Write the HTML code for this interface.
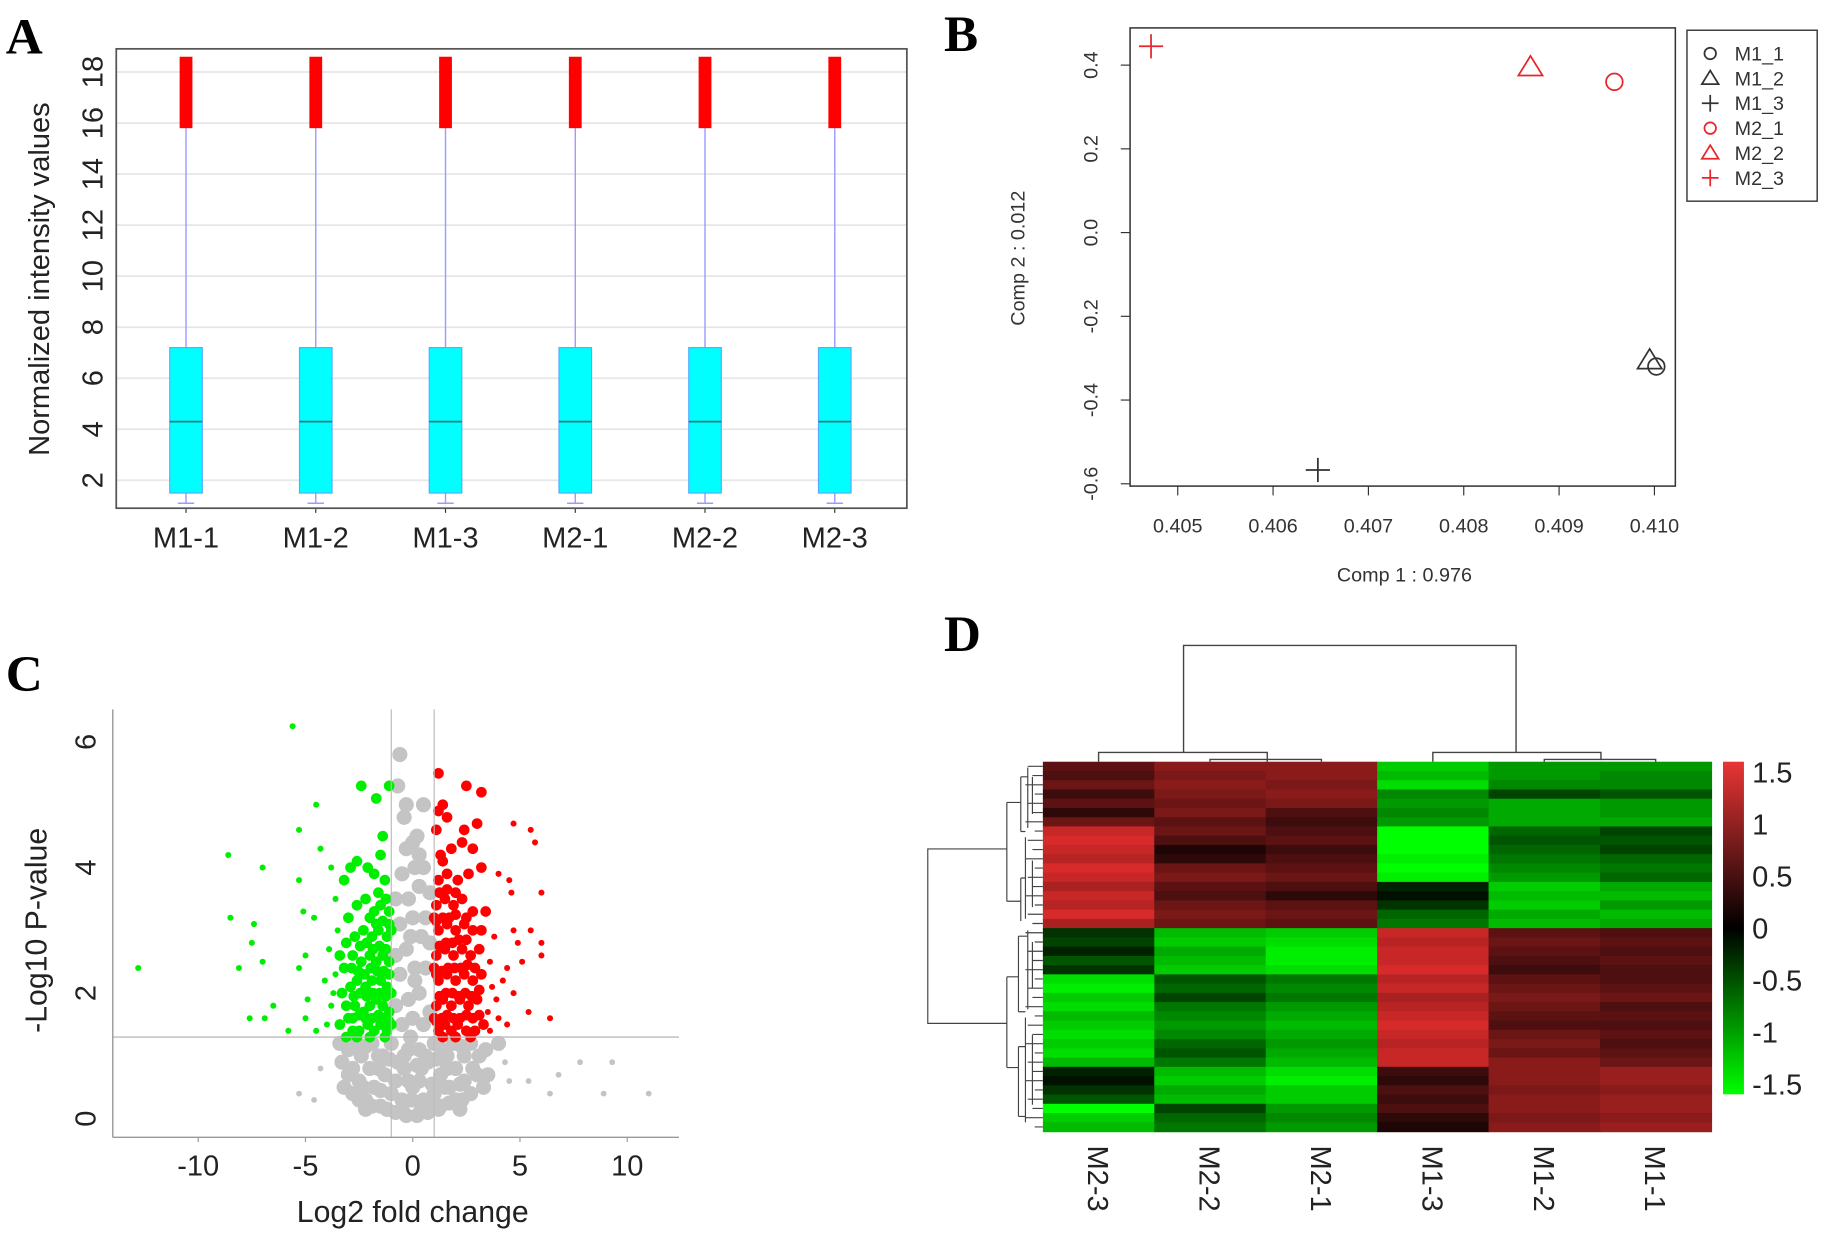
<!DOCTYPE html>
<html><head><meta charset="utf-8"><style>
html,body{margin:0;padding:0;background:#fff;}
svg{display:block;font-family:"Liberation Sans",Arial,sans-serif;}
</style></head><body>
<svg id="fig" width="1823" height="1242" viewBox="0 0 1568 1068" preserveAspectRatio="none" xmlns="http://www.w3.org/2000/svg">
<defs><linearGradient id="cb" x1="0" y1="0" x2="0" y2="1">
<stop offset="0" stop-color="#e83535"/><stop offset="0.5" stop-color="#000"/><stop offset="1" stop-color="#00ff00"/></linearGradient></defs>
<text x="5" y="46" font-family="Liberation Serif" font-weight="bold" font-size="44">A</text>
<text x="812" y="44" font-family="Liberation Serif" font-weight="bold" font-size="44">B</text>
<text x="5" y="594" font-family="Liberation Serif" font-weight="bold" font-size="44">C</text>
<text x="812" y="560" font-family="Liberation Serif" font-weight="bold" font-size="44">D</text>
<g id="pa"></g>
<g id="pb"></g>
<g id="pc"></g>
<g id="pd"></g>
</svg>
<script>
// ---- Panel A data
const samplesA = ["M1-1","M1-2","M1-3","M2-1","M2-2","M2-3"];
const q1A = [1.5,1.5,1.5,1.5,1.5,1.5];
const q3A = [7.2,7.2,7.2,7.2,7.2,7.2];
const medA = [4.3,4.3,4.3,4.3,4.3,4.3];
const loA = [1.1,1.1,1.1,1.1,1.1,1.1];
const hiA = [15.8,15.8,15.8,15.8,15.8,15.8];
const outTopA = [18.6,18.6,18.6,18.6,18.6,18.6];
const yTicksA = [2,4,6,8,10,12,14,16,18];
// ---- Panel B data
const pcaNames = ["M1_1","M1_2","M1_3","M2_1","M2_2","M2_3"];
const pcaX = [0.41002,0.40995,0.40647,0.40958,0.40870,0.40472];
const pcaY = [-0.32,-0.305,-0.567,0.36,0.395,0.445];
const pcaShape = ["o","t","p","o","t","p"];
const pcaColor = ["#333","#333","#333","#e8262b","#e8262b","#e8262b"];
const xTicksB = [0.405,0.406,0.407,0.408,0.409,0.410];
const yTicksB = [0.4,0.2,0.0,-0.2,-0.4,-0.6];
// ---- Panel C data
const greenX = [-12.8,-8.6,-7,-8.5,-7.4,-7.5,-8.1,-7,-6.5,-7.6,-6.9,-5.6,-5.3,-4.5,-5.3,-5.1,-4.6,-5,-5.3,-4.9,-5,-5.8,-4.5,-2.4,-1.7,-1.1,-1.4,-4.3,-3.8,-3.2,-2.6,
-1.2,-1.5,-1.8,-2.1,-2.5,-2.8,-1.1,-1.4,-1.7,-2.0,-2.3,-2.7,-3.0,-1.2,-1.5,-1.9,-2.2,-2.6,-2.9,-3.3,-1.1,-1.4,-1.7,-2.0,-2.4,-2.8,-3.2,-3.6,-1.2,-1.6,-1.9,-2.3,-2.7,-3.1,-1.1,-1.5,-1.8,-2.2,-2.6,-3.0,-3.5,-3.9,-4.1,-3.8,-3.4,-1.3,-1.8,-2.1,-1.5,-2.9,-3.6,-4.0,-1.0,-1.0,-1.0,-1.3,-2.0,-2.6,-3.1,
-1.1,-1.35,-1.6,-1.9,-2.2,-2.5,-2.8,-1.25,-1.55,-1.85,-2.15,-2.45,-2.75,-1.1,-1.35,-1.65,-1.95,-2.25,-2.55,-2.85,-1.25,-1.55,-1.85,-2.15,-2.45,-1.1,-1.4,-1.7,-2.0,-1.25,-1.6,-3.4,-3.7,-3.1];
const greenY = [2.4,4.2,4.0,3.2,3.1,2.8,2.4,2.5,1.8,1.6,1.6,6.25,4.6,5.0,3.8,3.3,3.2,2.6,2.4,1.9,1.6,1.4,1.4,5.3,5.1,5.3,4.5,4.3,4.0,3.8,4.1,
1.4,1.5,1.4,1.5,1.4,1.4,1.7,1.8,1.9,1.8,1.7,1.8,1.6,2.1,2.2,2.2,2.1,2.2,2.1,2.0,2.5,2.6,2.5,2.6,2.5,2.6,2.4,2.3,2.9,3.0,2.9,3.0,2.9,2.8,3.3,3.4,3.3,3.5,3.4,3.2,3.0,2.7,2.2,1.8,1.5,3.8,3.9,4.0,4.2,4.0,3.5,1.5,2.0,3.0,1.5,1.3,1.3,1.3,1.3,
1.55,1.6,1.65,1.6,1.6,1.65,1.6,1.95,2.0,2.0,1.95,2.0,1.95,2.3,2.35,2.35,2.4,2.3,2.35,2.4,2.7,2.75,2.7,2.8,2.75,3.1,3.15,3.1,3.2,3.5,3.6,2.6,2.0,1.8];
const redX = [1.2,1.5,1.8,2.1,2.5,2.9,3.3,1.1,1.4,1.8,2.2,2.6,3.0,3.5,4.0,4.4,1.2,1.6,2.0,2.4,2.8,3.2,3.7,4.2,1.1,1.5,1.9,2.3,2.7,3.1,3.6,4.4,1.2,1.6,2.0,2.4,2.8,3.2,3.8,4.7,5.5,6.0,1.1,1.5,1.9,2.3,2.8,3.4,4.6,6.0,1.2,1.6,2.1,2.6,3.2,4.0,4.5,1.3,1.8,2.3,2.8,1.1,1.6,2.4,3.0,1.2,1.4,1.2,2.5,3.2,4.7,5.5,5.7,6.0,6.4,5.4,4.7,5.1,4.9,1.0,1.0,1.0,1.4,2.0,2.7,
1.1,1.35,1.6,1.9,2.2,2.5,2.8,3.1,1.25,1.55,1.85,2.15,2.45,2.75,3.1,1.1,1.35,1.65,1.95,2.25,2.55,2.9,1.25,1.55,1.85,2.15,2.5,1.1,1.4,1.7,2.0,2.5,1.25,1.6,2.0,1.4,3.6,3.9];
const redY = [1.4,1.5,1.4,1.5,1.4,1.4,1.5,1.8,1.9,1.8,1.9,1.8,1.9,1.7,1.6,1.5,2.2,2.3,2.2,2.3,2.2,2.3,2.1,2.2,2.6,2.7,2.6,2.7,2.6,2.7,2.5,2.4,3.0,3.1,3.0,3.1,3.0,3.0,2.9,3.0,3.0,2.8,3.4,3.5,3.4,3.5,3.3,3.3,3.6,3.6,3.8,3.9,3.8,3.9,4.0,3.9,3.8,4.2,4.3,4.4,4.3,4.6,4.8,4.6,4.7,4.9,5.0,5.5,5.3,5.2,4.7,4.6,4.4,2.6,1.6,1.7,2.0,2.5,2.8,1.6,2.4,3.2,1.3,1.3,1.3,
1.55,1.6,1.65,1.6,1.6,1.65,1.6,1.65,1.95,2.0,2.0,1.95,2.0,1.95,2.05,2.3,2.35,2.4,2.4,2.4,2.45,2.4,2.75,2.8,2.8,2.85,2.85,3.15,3.2,3.2,3.25,3.2,3.6,3.65,3.6,4.1,1.4,1.9];
const grayX = [-0.8,-0.3,0.2,0.7,-1.5,-2.2,-2.8,1.3,2.0,2.7,3.3,-3.2,-0.5,0.5,-1.0,1.0,-1.8,1.7,-2.5,2.4,-0.2,0.3,-1.3,1.3,-2.0,2.0,-2.8,2.8,3.5,-3.3,-0.7,0.7,-1.6,1.6,-2.4,2.4,3.1,-3.0,-0.2,0.3,-1.0,1.0,-1.9,1.9,-2.6,2.7,4.0,4.3,4.5,-4.3,-4.6,-5.3,6.4,7.8,9.3,8.9,11.0,6.8,5.4,-0.5,0.5,-0.2,0.3,-0.6,0.6,-0.3,0.4,-0.6,0.6,-0.2,0.3,-0.5,0.5,-0.3,0.2,-0.4,0.5,-0.7,-0.6,-0.1,0.8,-0.8,0.8,-0.8,0.8,-0.8,0.1,0.0,0.1,-1.2,1.2,-0.4,0.4,-2.2,2.2,-1.1,1.1,
-2.5,-1.9,-1.2,-0.5,0.4,1.0,1.7,2.3,-3.0,-2.3,-1.5,-0.8,0.0,0.9,1.5,2.2,3.0,-3.4,-2.2,-1.4,-0.4,0.6,1.4,2.3,3.4,-0.4,0.2,-1.6,1.6,-0.05,0.0,0.1,-0.1,0.0,-0.3,0.3];
const grayY = [0.1,0.05,0.05,0.1,0.2,0.3,0.4,0.2,0.3,0.4,0.5,0.5,0.3,0.3,0.4,0.4,0.5,0.5,0.6,0.6,0.6,0.6,0.7,0.7,0.8,0.8,0.8,0.8,0.7,0.9,0.9,0.9,1.0,1.0,1.0,1.0,1.0,1.1,1.1,1.1,1.2,1.2,1.2,1.2,1.2,1.2,1.2,0.9,0.6,0.8,0.3,0.4,0.4,0.9,0.9,0.4,0.4,0.7,0.6,1.5,1.5,1.9,2.0,2.3,2.4,2.7,2.9,3.1,3.2,3.5,3.7,3.9,4.0,4.3,4.5,4.8,5.0,5.3,5.8,1.3,1.7,1.8,2.8,2.6,3.6,3.5,2.4,3.2,4.0,0.15,0.15,0.8,0.8,0.15,0.15,0.95,0.95,
0.3,0.2,0.15,0.15,0.15,0.2,0.25,0.3,0.7,0.5,0.45,0.6,0.5,0.55,0.5,0.55,0.7,1.2,1.15,1.0,1.0,1.0,1.1,1.15,1.1,0.8,0.85,0.8,0.8,0.3,1.6,2.2,2.9,4.4,5.0,4.2];
const xTicksC = [-10,-5,0,5,10];
const yTicksC = [0,2,4,6];
// ---- Panel D data
const colsD = ["M2-3","M2-2","M2-1","M1-3","M1-2","M1-1"];
const hM23 = [0.6,0.5,0.7,0.4,0.6,0.3,0.7,1.3,1.4,1.3,1.2,1.4,1.3,1.1,1.3,1.2,1.4,1.1,-0.3,-0.4,-0.2,-0.5,-0.3,-1.3,-1.4,-1.2,-1.3,-1.1,-1.2,-1.3,-1.2,-1.3,-1.1,-0.2,-0.1,-0.3,-0.5,-1.5,-1.2,-1.1];
const hM22 = [0.9,0.8,0.9,0.8,0.7,0.8,0.6,0.7,0.5,0.2,0.3,0.7,0.8,0.6,0.5,0.7,0.8,0.7,-1.1,-1.2,-1.0,-1.1,-1.2,-0.5,-0.6,-0.4,-0.7,-0.8,-0.9,-0.8,-0.6,-0.5,-0.7,-1.1,-1.2,-1.0,-1.1,-0.4,-0.6,-0.7];
const hM21 = [0.9,0.9,0.8,0.9,0.8,0.5,0.4,0.5,0.6,0.4,0.5,0.6,0.7,0.5,0.3,0.6,0.7,0.6,-1.2,-1.3,-1.4,-1.4,-1.3,-0.7,-0.8,-0.7,-0.9,-1.0,-1.1,-1.0,-0.9,-1.0,-1.1,-1.3,-1.4,-1.2,-1.2,-0.9,-0.8,-0.9];
const hM13 = [-1.2,-1.1,-1.3,-0.8,-0.9,-0.8,-0.9,-1.5,-1.5,-1.5,-1.4,-1.5,-1.4,-0.2,-0.1,-0.3,-0.6,-0.7,1.3,1.2,1.3,1.3,1.4,1.2,1.3,1.1,1.2,1.3,1.4,1.3,1.2,1.3,1.3,0.4,0.3,0.5,0.4,0.5,0.3,0.2];
const hM12 = [-0.9,-0.9,-0.8,-0.4,-1.0,-1.0,-1.0,-0.6,-0.5,-0.6,-0.7,-0.8,-0.9,-1.2,-1.1,-1.2,-1.0,-1.1,0.6,0.7,0.6,0.5,0.4,0.6,0.7,0.8,0.7,0.6,0.5,0.7,0.8,0.7,0.9,0.9,0.9,0.8,0.9,0.9,0.8,0.9];
const hM11 = [-0.9,-0.8,-0.8,-0.5,-0.9,-0.9,-1.0,-0.4,-0.5,-0.4,-0.6,-0.7,-0.6,-1.0,-1.1,-0.9,-1.1,-1.0,0.5,0.6,0.5,0.6,0.5,0.5,0.6,0.7,0.5,0.6,0.5,0.6,0.5,0.6,0.7,1.0,1.0,0.9,1.0,1.0,0.9,1.0];
const cbTicks = [1.5,1,0.5,0,-0.5,-1,-1.5];

const NS="http://www.w3.org/2000/svg";
function mk(parent,tag,attrs,txt){const e=document.createElementNS(NS,tag);for(const k in attrs)e.setAttribute(k,attrs[k]);if(txt!==undefined)e.textContent=txt;parent.appendChild(e);return e;}

// ===== Panel A
(function(){
const g=document.getElementById('pa');
const L=100,R=780,T=42,B=437;
const ya=v=>413-(v-2)*21.94;
const xa=i=>160+i*111.6;
yTicksA.forEach(v=>{mk(g,'line',{x1:L,x2:R,y1:ya(v),y2:ya(v),stroke:'#e6e6e6','stroke-width':1.5});
const t=mk(g,'text',{x:0,y:0,transform:`translate(88,${ya(v)}) rotate(-90)`,'text-anchor':'middle','font-size':25,fill:'#222'},v);

});
samplesA.forEach((s,i)=>{const x=xa(i),w=28;
const grp=mk(g,'g',{});


mk(grp,'line',{x1:x,x2:x,y1:ya(hiA[i]),y2:ya(q3A[i]),stroke:'#9a9aff','stroke-width':1.2});
mk(grp,'line',{x1:x,x2:x,y1:ya(q1A[i]),y2:ya(loA[i]),stroke:'#9a9aff','stroke-width':1.2});
mk(grp,'line',{x1:x-7,x2:x+7,y1:ya(loA[i]),y2:ya(loA[i]),stroke:'#9a9aff','stroke-width':1.2});
mk(grp,'rect',{x:x-5.5,y:ya(outTopA[i]),width:11,height:ya(hiA[i])-ya(outTopA[i]),fill:'#ff0000'});
mk(grp,'rect',{x:x-w/2,y:ya(q3A[i]),width:w,height:ya(q1A[i])-ya(q3A[i]),fill:'#00ffff',stroke:'#55aaff','stroke-width':1});
mk(grp,'line',{x1:x-w/2,x2:x+w/2,y1:ya(medA[i]),y2:ya(medA[i]),stroke:'#237b7b','stroke-width':1.5});
mk(g,'line',{x1:x,x2:x,y1:B,y2:B+4,stroke:'#333'});
const t=mk(g,'text',{x:x,y:471,'text-anchor':'middle','font-size':25,fill:'#222'},s);

});
const box=mk(g,'rect',{x:L,y:T,width:R-L,height:B-T,fill:'none',stroke:'#555','stroke-width':1.5});


const yt=mk(g,'text',{x:0,y:0,transform:'translate(42,240) rotate(-90)','text-anchor':'middle','font-size':25,fill:'#222'},'Normalized intensity values');


})();

// ===== Panel B
(function(){
const g=document.getElementById('pb');
const L=972,R=1441,T=24,B=418;
const xb=v=>1013+(v-0.405)*82000;
const yb=v=>200-v*360;
mk(g,'rect',{x:L,y:T,width:R-L,height:B-T,fill:'none',stroke:'#333','stroke-width':1.3});
xTicksB.forEach(v=>{mk(g,'line',{x1:xb(v),x2:xb(v),y1:B,y2:B+8,stroke:'#333'});
const t=mk(g,'text',{x:xb(v),y:458,'text-anchor':'middle','font-size':17,fill:'#333'},v.toFixed(3));

});
yTicksB.forEach(v=>{mk(g,'line',{x1:L-8,x2:L,y1:yb(v),y2:yb(v),stroke:'#333'});
const t=mk(g,'text',{x:0,y:0,transform:`translate(${L-28},${yb(v)}) rotate(-90)`,'text-anchor':'middle','font-size':17,fill:'#333'},v.toFixed(1));

});
function marker(par,sh,x,y,c,s){
 if(sh==='o')mk(par,'circle',{cx:x,cy:y,r:s*0.55,fill:'none',stroke:c,'stroke-width':1.5});
 else if(sh==='t')mk(par,'polygon',{points:`${x},${y-s*0.75} ${x-s*0.8},${y+s*0.55} ${x+s*0.8},${y+s*0.55}`,fill:'none',stroke:c,'stroke-width':1.5});
 else {mk(par,'line',{x1:x-s*0.8,x2:x+s*0.8,y1:y,y2:y,stroke:c,'stroke-width':1.5});mk(par,'line',{x1:x,x2:x,y1:y-s*0.8,y2:y+s*0.8,stroke:c,'stroke-width':1.5});}
}
pcaNames.forEach((n,i)=>{const p=mk(g,'g',{});


marker(p,pcaShape[i],xb(pcaX[i]),yb(pcaY[i]),pcaColor[i],13);});
const lg=mk(g,'g',{});


mk(lg,'rect',{x:1451,y:26,width:112,height:147,fill:'#fff',stroke:'#333','stroke-width':1.2});
pcaNames.forEach((n,i)=>{const y=46+i*21.4;
const e=mk(lg,'g',{});


marker(e,pcaShape[i],1471,y,pcaColor[i],9);
mk(e,'text',{x:1492,y:y+6,'font-size':17,fill:'#333'},n);});
const xt=mk(g,'text',{x:1208,y:500,'text-anchor':'middle','font-size':17,fill:'#333'},'Comp 1 : 0.976');


const yt=mk(g,'text',{x:0,y:0,transform:'translate(881,222) rotate(-90)','text-anchor':'middle','font-size':17,fill:'#333'},'Comp 2 : 0.012');


})();

// ===== Panel C
(function(){
const g=document.getElementById('pc');
const L=97,R=584,T=610,B=978;
const xc=v=>355+v*18.45;
const yc=v=>962-v*54;
const gp=mk(g,'g',{});


grayX.forEach((x,i)=>mk(gp,'circle',{cx:xc(x),cy:yc(grayY[i]),r:x>4||x<-4?2.5:6.5,fill:'#c4c4c4'}));
const gr=mk(g,'g',{});


greenX.forEach((x,i)=>mk(gr,'circle',{cx:xc(x),cy:yc(greenY[i]),r:x>-3.5?4.6:2.6,fill:'#00ee00'}));
const rd=mk(g,'g',{});


redX.forEach((x,i)=>mk(rd,'circle',{cx:xc(x),cy:yc(redY[i]),r:x<3.5?4.6:2.6,fill:'#ff0000'}));
mk(g,'line',{x1:L,x2:R,y1:yc(1.3),y2:yc(1.3),stroke:'#bbb','stroke-width':1.2});
mk(g,'line',{x1:xc(-1),x2:xc(-1),y1:T,y2:B,stroke:'#bbb','stroke-width':1});
mk(g,'line',{x1:xc(1),x2:xc(1),y1:T,y2:B,stroke:'#bbb','stroke-width':1});
mk(g,'line',{x1:L,x2:L,y1:T,y2:B,stroke:'#999','stroke-width':1.2});
mk(g,'line',{x1:L,x2:R,y1:B,y2:B,stroke:'#999','stroke-width':1.2});
xTicksC.forEach(v=>{mk(g,'line',{x1:xc(v),x2:xc(v),y1:B,y2:B+4,stroke:'#999'});
const t=mk(g,'text',{x:xc(v),y:1011,'text-anchor':'middle','font-size':25,fill:'#222'},v);

});
yTicksC.forEach(v=>{const t=mk(g,'text',{x:0,y:0,transform:`translate(82,${yc(v)}) rotate(-90)`,'text-anchor':'middle','font-size':25,fill:'#222'},v);

});
const xt=mk(g,'text',{x:355,y:1051,'text-anchor':'middle','font-size':26,fill:'#222'},'Log2 fold change');


const yt=mk(g,'text',{x:0,y:0,transform:'translate(40,800) rotate(-90)','text-anchor':'middle','font-size':26,fill:'#222'},'-Log10 P-value');


})();

// ===== Panel D
(function(){
const g=document.getElementById('pd');
const L=897,R=1472,T=655,B=973;
const cols=[hM23,hM22,hM21,hM13,hM12,hM11];
const n=hM23.length,cw=(R-L)/6,rh=(B-T)/n;
function col(v){v=Math.max(-1.5,Math.min(1.5,v));const f=Math.abs(v)/1.5;
 return v>=0?`rgb(${Math.round(230*f)},${Math.round(45*f)},${Math.round(45*f)})`:`rgb(0,${Math.round(255*f)},0)`;}
const hm=mk(g,'g',{});


cols.forEach((arr,c)=>arr.forEach((v,r)=>mk(hm,'rect',{x:L+c*cw,y:T+r*rh,width:cw+0.6,height:rh+0.6,fill:col(v)})));
colsD.forEach((s,c)=>{const x=L+(c+0.5)*cw;
const t=mk(g,'text',{x:0,y:0,transform:`translate(${x-9},985) rotate(90)`,'font-size':25,fill:'#222'},s);

});
const cb=mk(g,'rect',{x:1482,y:655,width:18,height:286,fill:'url(#cb)'});


cbTicks.forEach(v=>{const y=798-v*89.5;
const t=mk(g,'text',{x:1507,y:y+9,'font-size':25,fill:'#222'},v);

});
const cx=i=>L+(i+0.5)*cw;
const dt=mk(g,'path',{fill:'none',stroke:'#444','stroke-width':1.2,d:
`M1018,647 V555 H1304 V647 M${cx(0)},655 V647 H1090 V653 M1090,653 V655 M${cx(1)},655 V653 H${cx(2)} V655 M${cx(3)},655 V647 H1377 V653 M${cx(4)},655 V653 H${cx(5)} V655`});


let d='M866,730 H798 V880 H866 M866,690 V775 M866,690 H878 M866,775 H878 M878,668 V715 M878,755 V792 M866,840 V918 M866,840 H876 M866,918 H876 M876,805 V870 M876,900 V960 ';
for(let r=0;r<n;r++){const y=T+(r+0.5)*rh;const x0=[884,888,882,890][r%4];d+=`M${x0},${y} H${L} `;}
d+='M884,660 V712 M888,668 V700 M882,720 V790 M888,740 V780 M884,800 V868 M888,810 V850 M882,875 V965 M888,890 V950 M878,668 H884 M878,715 H882 M878,755 H882 M876,805 H884 M876,870 H882 M876,900 H882 M876,960 H882 ';
const dl=mk(g,'path',{fill:'none',stroke:'#444','stroke-width':1,d:d});


})();
</script>
</body></html>
